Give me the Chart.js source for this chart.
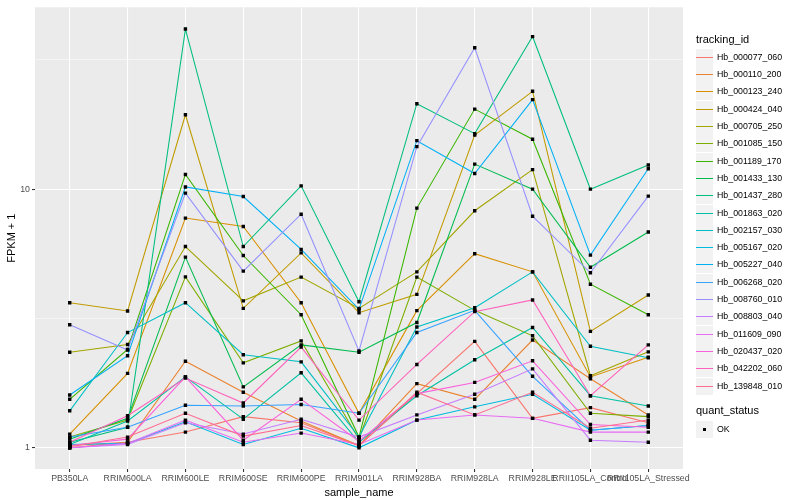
<!DOCTYPE html>
<html>
<head>
<meta charset="utf-8">
<script src="https://cdn.jsdelivr.net/npm/chart.js@4/dist/chart.umd.min.js"></script>
<style>
  body { margin:0; background:#fff; font-family:"Liberation Sans", Arial, sans-serif; }
  #wrap { position:relative; width:800px; height:500px; }
  #legend { position:absolute; left:0; top:0; width:800px; height:500px; pointer-events:none; }
  .ltitle { position:absolute; left:696px; font-size:11px; color:#000; line-height:13px; }
  .lkey { position:absolute; left:696px; width:17px; height:17px; background:#F2F2F2; }
  .lline { position:absolute; left:0; top:7.5px; width:17px; height:1.6px; }
  .ldot { position:absolute; left:7px; top:7px; width:3px; height:3px; background:#000; }
  .ltext { position:absolute; left:717px; font-size:8.8px; color:#000; line-height:10px; }
</style>
</head>
<body>
<div id="wrap">
  <canvas id="c" width="800" height="500"></canvas>
  <div id="legend"></div>
</div>
<script>
/* ---------- data ---------- */
const categories = ['PB350LA','RRIM600LA','RRIM600LE','RRIM600SE','RRIM600PE','RRIM901LA',
  'RRIM928BA','RRIM928LA','RRIM928LE','RRII105LA_Control','RRII105LA_Stressed'];

const trackingIds = ['Hb_000077_060','Hb_000110_200','Hb_000123_240','Hb_000424_040','Hb_000705_250',
  'Hb_001085_150','Hb_001189_170','Hb_001433_130','Hb_001437_280','Hb_001863_020','Hb_002157_030',
  'Hb_005167_020','Hb_005227_040','Hb_006268_020','Hb_008760_010','Hb_008803_040','Hb_011609_090',
  'Hb_020437_020','Hb_042202_060','Hb_139848_010'];

// FPKM + 1, one value per sample
const hb000077_060 = [1.02, 1.05, 1.15, 1.32, 1.25, 1.02, 1.62, 2.58, 1.30, 1.43, 1.25];
const hb000110_200 = [1.00, 1.05, 2.16, 1.64, 1.27, 1.02, 1.77, 1.54, 2.61, 1.85, 1.34];
const hb000123_240 = [1.13, 1.94, 7.73, 7.17, 3.64, 1.36, 3.39, 5.63, 4.79, 1.88, 2.24];
const hb000424_040 = [3.64, 3.38, 19.4, 3.46, 5.67, 3.33, 3.92, 16.2, 23.9, 2.82, 3.90];
const hb000705_250 = [2.34, 2.51, 6.00, 3.70, 4.57, 3.46, 4.79, 8.25, 11.9, 1.90, 2.35];
const hb001085_150 = [1.10, 1.28, 4.58, 2.13, 2.59, 1.08, 4.57, 3.40, 2.71, 1.36, 1.32];
const hb001189_170 = [1.54, 2.40, 11.4, 5.54, 3.27, 1.10, 8.45, 20.4, 15.6, 4.29, 3.27];
const hb001433_130 = [1.08, 1.30, 5.46, 1.72, 2.50, 2.34, 3.05, 12.5, 10.0, 4.99, 6.83];
const hb001437_280 = [1.05, 1.20, 41.6, 6.00, 10.3, 3.67, 21.4, 16.4, 38.9, 10.0, 12.4];
const hb001863_020 = [1.03, 1.27, 1.88, 1.29, 1.95, 1.05, 1.59, 2.19, 2.92, 1.59, 1.45];
const hb002157_030 = [1.39, 2.79, 3.64, 2.29, 2.15, 1.10, 2.93, 3.48, 4.79, 2.47, 2.23];
const hb005167_020 = [1.03, 1.04, 1.26, 1.03, 1.19, 1.00, 1.28, 1.44, 1.61, 1.17, 1.22];
const hb005227_040 = [1.60, 2.27, 10.2, 9.37, 5.85, 3.43, 15.4, 11.5, 22.2, 5.56, 12.0];
const hb006268_020 = [1.10, 1.20, 1.46, 1.45, 1.47, 1.36, 2.79, 3.40, 1.89, 1.17, 1.22];
const hb008760_010 = [2.99, 2.39, 9.65, 4.82, 8.00, 2.37, 14.6, 35.2, 7.86, 4.75, 9.40];
const hb008803_040 = [1.00, 1.03, 1.25, 1.13, 1.29, 1.10, 1.34, 1.61, 2.02, 1.07, 1.05];
const hb011609_090 = [1.00, 1.04, 1.28, 1.05, 1.14, 1.03, 1.28, 1.34, 1.30, 1.15, 1.15];
const hb020437_020 = [1.02, 1.08, 1.88, 1.07, 1.54, 1.06, 1.62, 1.79, 2.17, 1.23, 1.20];
const hb042202_060 = [1.05, 1.33, 1.86, 1.49, 2.45, 1.28, 2.10, 3.36, 3.73, 1.59, 2.50];
const hb139848_010 = [1.01, 1.10, 1.36, 1.11, 1.22, 1.02, 1.64, 1.34, 1.64, 1.19, 1.28];

const seriesValues = [hb000077_060, hb000110_200, hb000123_240, hb000424_040, hb000705_250,
  hb001085_150, hb001189_170, hb001433_130, hb001437_280, hb001863_020, hb002157_030,
  hb005167_020, hb005227_040, hb006268_020, hb008760_010, hb008803_040, hb011609_090,
  hb020437_020, hb042202_060, hb139848_010];

const seriesColors = ['#F8766D','#EA8331','#D89000','#C09B00','#A3A500','#7CAE00','#39B600',
  '#00BB4E','#00BF7D','#00C1A3','#00BFC4','#00BAE0','#00B0F6','#35A2FF','#9590FF','#C77CFF',
  '#E76BF3','#FA62DB','#FF62BC','#FF6C91'];

const yMajorTicks = [1, 10];
const yMinorTicks = [3.1623, 31.623];
const yTickLabels = ['1', '10'];
const quantStatus = ['OK'];

/* ---------- chart ---------- */
const lineSets = seriesValues.map((vals, i) => ({
  label: trackingIds[i],
  data: vals.map((v, j) => ({x: j, y: v})),
  borderColor: seriesColors[i],
  borderWidth: 1.07,
  pointRadius: 0,
  tension: 0,
  fill: false,
  order: 100 - i
}));

const pointSet = {
  label: quantStatus[0],
  data: seriesValues.flatMap(vals => vals.map((v, j) => ({x: j, y: v}))),
  showLine: false,
  pointStyle: 'rect',
  pointRadius: 2.4,
  pointBackgroundColor: '#000',
  pointBorderWidth: 0,
  order: 0
};

const panelBg = {
  id: 'panelBg',
  beforeDraw(chart){
    const a = chart.chartArea, ctx = chart.ctx;
    ctx.save();
    ctx.fillStyle = '#EBEBEB';
    ctx.fillRect(a.left, a.top, a.right - a.left, a.bottom - a.top);
    ctx.restore();
  }
};

const tickFont = {family:'"Liberation Sans", Arial, sans-serif', size:8.8};
const titleFont = {family:'"Liberation Sans", Arial, sans-serif', size:11};

new Chart(document.getElementById('c'), {
  type: 'line',
  data: { datasets: [...lineSets, pointSet] },
  options: {
    responsive: false,
    animation: false,
    layout: { padding: {top:5, right:117, left:0, bottom:0} },
    plugins: { legend:{display:false}, tooltip:{enabled:false} },
    scales: {
      x: {
        type: 'linear', min: -0.6, max: 10.6,
        afterBuildTicks: s => { s.ticks = categories.map((c, i) => ({value:i})); },
        afterFit: s => { s.height = 31; },
        ticks: { callback: v => categories[v], autoSkip:false, maxRotation:0, minRotation:0,
                 color:'#4D4D4D', font:tickFont, padding:1 },
        grid: { color:'#FFFFFF', lineWidth:1.07, tickLength:3, tickColor:'#333333', tickWidth:1.07 },
        border: { display:false },
        title: { display:true, text:'sample_name', color:'#000', font:titleFont, padding:{top:5, bottom:0} }
      },
      y: {
        type: 'logarithmic', min: 0.828, max: 50.5,
        afterBuildTicks: s => {
          s.ticks = [...yMajorTicks, ...yMinorTicks].sort((a, b) => a - b).map(v => ({value:v}));
        },
        afterFit: s => { s.width = 35; },
        ticks: { callback: v => { const k = yMajorTicks.indexOf(v); return k >= 0 ? yTickLabels[k] : ''; },
                 color:'#4D4D4D', font:tickFont, padding:2 },
        grid: {
          color:'#FFFFFF',
          lineWidth: c => yMajorTicks.includes(c.tick.value) ? 1.07 : 0.53,
          tickLength:3,
          tickColor: c => yMajorTicks.includes(c.tick.value) ? '#333333' : 'rgba(0,0,0,0)',
          tickWidth:1.07
        },
        border: { display:false },
        title: { display:true, text:'FPKM + 1', color:'#000', font:titleFont, padding:{top:5, bottom:0} }
      }
    }
  },
  plugins: [panelBg]
});

/* ---------- legends (ggplot style, right side) ---------- */
const lg = document.getElementById('legend');
let html = '<div class="ltitle" style="top:33px">tracking_id</div>';
trackingIds.forEach((id, i) => {
  const top = Math.round(57.3 + i * 17.3 - 8.5);
  html += `<div class="lkey" style="top:${top}px"><div class="lline" style="background:${seriesColors[i]}"></div></div>`;
  html += `<div class="ltext" style="top:${top + 3}px">${id}</div>`;
});
html += '<div class="ltitle" style="top:404px">quant_status</div>';
quantStatus.forEach((q, i) => {
  const top = Math.round(429 + i * 17.3 - 8.5);
  html += `<div class="lkey" style="top:${top}px"><div class="ldot"></div></div>`;
  html += `<div class="ltext" style="top:${top + 3}px">${q}</div>`;
});
lg.innerHTML = html;
</script>
</body>
</html>
